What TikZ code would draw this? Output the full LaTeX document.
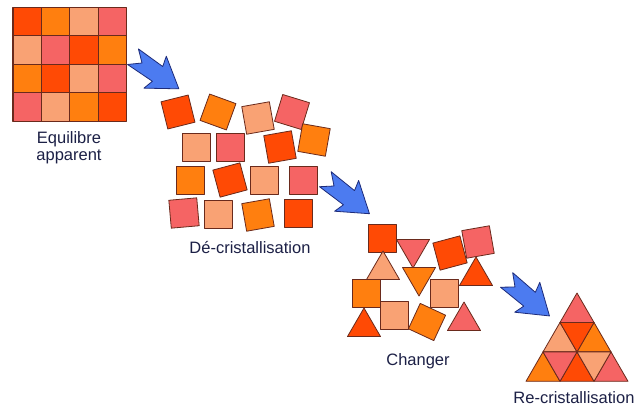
\documentclass[tikz,border=0pt]{standalone}
\usepackage{fontspec}
\setmainfont{Liberation Sans}

\definecolor{tilered}{HTML}{FF4A05}
\definecolor{tileorange}{HTML}{FF7F0F}
\definecolor{tilepeach}{HTML}{F9A274}
\definecolor{tilepink}{HTML}{F56464}
\definecolor{tileline}{HTML}{6A2A1C}
\definecolor{pointerblue}{HTML}{4C7BF0}
\definecolor{pointerline}{HTML}{1E2C7A}
\definecolor{captionblue}{HTML}{1C2046}

\tikzset{
  tile/.style={draw=tileline,line width=0.8pt,line join=round},
  pointer/.style={fill=pointerblue,draw=pointerline,line width=0.8pt,line join=round},
  caption/.style={text=captionblue,font=\fontsize{16.5}{18}\selectfont,anchor=base,inner sep=0pt},
}

% square tile: centre x, centre y, angle, colour
\newcommand{\squaretile}[4]{\filldraw[tile,fill=#4,shift={(#1,#2)},rotate=#3] (-14,-14) rectangle (14,14);}
% triangle tiles: apex x, apex y, colour
\newcommand{\uptile}[3]{\filldraw[tile,fill=#3] (#1,#2) -- ++(16.5,28.5) -- ++(-33,0) -- cycle;}
\newcommand{\downtile}[3]{\filldraw[tile,fill=#3] (#1,#2) -- ++(-16.5,-28.5) -- ++(33,0) -- cycle;}
% blue arrow: notch x, notch y, angle
\newcommand{\pointerarrow}[3]{\filldraw[pointer,shift={(#1,#2)},rotate=#3]
  (-11,-9.5) -- (19,-9) -- (16,-19.5) -- (45,0) -- (16,19.5) -- (19,9) -- (-11,9.5) -- (0,0) -- cycle;}

\begin{document}
\begin{tikzpicture}[x=1pt,y=-1pt]
  \useasboundingbox[fill=white] (0,0) rectangle (637,407);

  % equilibre apparent
  \foreach \row/\colours in {0/{tilered,tileorange,tilepeach,tilepink},
                             1/{tilepeach,tilepink,tilered,tileorange},
                             2/{tileorange,tilered,tilepeach,tilepink},
                             3/{tilepink,tilepeach,tileorange,tilered}}{
    \foreach \c [count=\col from 0] in \colours{
      \filldraw[tile,line width=1.1pt,fill=\c] (13+28.4*\col,7.5+28.4*\row) rectangle ++(28.4,28.4);
    }
  }
  \node[caption] (eqa) at (69,143.5) {Equilibre};
  \node[caption] (eqb) at (69,160) {apparent};

  \pointerarrow{142}{63}{-35}

  % de-cristallisation
  \squaretile{178}{112}{14}{tilered}
  \squaretile{218}{112}{-20}{tileorange}
  \squaretile{258}{118}{10}{tilepeach}
  \squaretile{292}{112}{-17}{tilepink}
  \squaretile{196}{147}{0}{tilepeach}
  \squaretile{230}{147}{0}{tilepink}
  \squaretile{280}{147}{10}{tilered}
  \squaretile{314}{140}{-10}{tileorange}
  \squaretile{190}{180}{0}{tileorange}
  \squaretile{230}{180}{15}{tilered}
  \squaretile{264}{180}{0}{tilepeach}
  \squaretile{303}{180}{0}{tilepink}
  \squaretile{184}{213}{5}{tilepink}
  \squaretile{218}{214}{0}{tilepeach}
  \squaretile{258}{215}{10}{tileorange}
  \squaretile{298}{213}{0}{tilered}
  \node[caption] (decrist) at (250,253) {Dé-cristallisation};

  \pointerarrow{334}{186}{-38}

  % changer
  \squaretile{382}{238}{0}{tilered}
  \downtile{413}{268}{tilepink}
  \squaretile{450}{253}{15}{tilered}
  \squaretile{478}{242}{10}{tilepink}
  \uptile{383}{251}{tilepeach}
  \downtile{419}{296}{tileorange}
  \uptile{476}{257}{tilered}
  \squaretile{366}{293}{0}{tileorange}
  \squaretile{444}{293}{0}{tilepeach}
  \uptile{364}{308}{tilered}
  \squaretile{394}{315}{0}{tilepeach}
  \squaretile{427}{322}{-25}{tileorange}
  \uptile{464}{302}{tilepink}
  \node[caption] (changer) at (418,365) {Changer};

  \pointerarrow{515}{287}{-40}

  % re-cristallisation
  \foreach \r/\k/\c in {0/0/tilepink,
                        1/0/tilepeach,1/1/tileorange,
                        2/0/tileorange,2/1/tilered,2/2/tilepink}{
    \filldraw[tile,fill=\c] (577-17*\r+34*\k,293+29.44*\r) -- ++(17,29.44) -- ++(-34,0) -- cycle;
  }
  \foreach \r/\k/\c in {1/0/tilered,
                        2/0/tilepink,2/1/tilepeach}{
    \filldraw[tile,fill=\c] (577-17*\r+34*\k,293+29.44*\r) -- ++(34,0) -- ++(-17,29.44) -- cycle;
  }
  \node[caption] (recrist) at (574,403) {Re-cristallisation};
\end{tikzpicture}
\end{document}
